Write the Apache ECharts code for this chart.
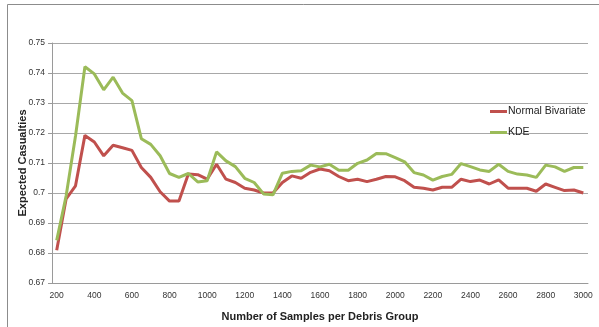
<!DOCTYPE html>
<html><head><meta charset="utf-8">
<script src="https://cdn.jsdelivr.net/npm/echarts@6/dist/echarts.min.js"></script>
<style>html,body{margin:0;padding:0;background:#fff}#c{width:599px;height:327px}</style>
</head><body><div id="c"></div>
<script>
const categories = [200,250,300,350,400,450,500,550,600,650,700,750,800,850,900,950,1000,1050,1100,1150,1200,1250,1300,1350,1400,1450,1500,1550,1600,1650,1700,1750,1800,1850,1900,1950,2000,2050,2100,2150,2200,2250,2300,2350,2400,2450,2500,2550,2600,2650,2700,2750,2800,2850,2900,2950,3000];
const normalBivariate = [0.6809,0.6980,0.7024,0.7192,0.7170,0.7124,0.7159,0.7151,0.7142,0.7085,0.7052,0.7004,0.6973,0.6973,0.7063,0.7061,0.7046,0.7096,0.7046,0.7035,0.7016,0.7010,0.7000,0.7000,0.7035,0.7057,0.7049,0.7069,0.7080,0.7074,0.7055,0.7041,0.7046,0.7038,0.7046,0.7055,0.7054,0.7041,0.7019,0.7016,0.7010,0.7019,0.7019,0.7046,0.7038,0.7043,0.7030,0.7044,0.7016,0.7016,0.7016,0.7006,0.7030,0.7019,0.7008,0.7010,0.7000];
const kde = [0.6842,0.6990,0.7190,0.7421,0.7397,0.7344,0.7386,0.7333,0.7308,0.7181,0.7162,0.7124,0.7065,0.7052,0.7065,0.7037,0.7041,0.7137,0.7107,0.7088,0.7049,0.7035,0.6997,0.6994,0.7066,0.7072,0.7074,0.7093,0.7087,0.7096,0.7076,0.7076,0.7099,0.7110,0.7132,0.7131,0.7118,0.7104,0.7068,0.7060,0.7043,0.7055,0.7062,0.7098,0.7088,0.7077,0.7072,0.7096,0.7072,0.7063,0.7060,0.7052,0.7093,0.7087,0.7072,0.7085,0.7085];
const yTicks = {min:0.67, max:0.75, step:0.01};

const chart = echarts.init(document.getElementById('c'), null, {renderer:'canvas'});
const font = 'Liberation Sans, Arial, sans-serif';
chart.setOption({
  animation:false,
  backgroundColor:'#fff',
  graphic:[{type:'rect', shape:{x:7.5,y:4.5,width:620,height:360}, style:{fill:'none',stroke:'#8c8c8c',lineWidth:1}, silent:true}],
  grid:{left:52,right:11,top:43,bottom:42,containLabel:false},
  legend:{
    orient:'vertical', left:485, top:101, itemGap:10,
    itemWidth:17, itemHeight:3, icon:'rect',
    textStyle:{fontFamily:font,fontSize:10.5,color:'#222',padding:[0,0,0,-4]},
    data:['Normal Bivariate','KDE']
  },
  xAxis:{
    type:'category', data:categories, boundaryGap:true,
    name:'Number of Samples per Debris Group', nameLocation:'middle', nameGap:28,
    nameTextStyle:{fontFamily:font,fontSize:11,fontWeight:'bold',color:'#222'},
    axisLine:{lineStyle:{color:'#9a9a9a',width:1}},
    axisTick:{show:false},
    axisLabel:{interval:3,fontFamily:font,fontSize:8.5,color:'#333',margin:8}
  },
  yAxis:{
    type:'value', min:yTicks.min, max:yTicks.max, interval:yTicks.step,
    name:'Expected Casualties', nameLocation:'middle', nameGap:24, nameRotate:90,
    nameMoveOverlap:false,
    nameTextStyle:{fontFamily:font,fontSize:11,fontWeight:'bold',color:'#222'},
    axisLine:{show:true,lineStyle:{color:'#9a9a9a',width:1}},
    axisTick:{show:true,length:4,lineStyle:{color:'#9a9a9a'}},
    splitLine:{lineStyle:{color:'#a8a8a8',width:1.2}},
    axisLabel:{fontFamily:font,fontSize:8.5,color:'#333',margin:7,formatter:v=>String(+v.toFixed(2))}
  },
  series:[
    {name:'Normal Bivariate',type:'line',data:normalBivariate,showSymbol:false,symbol:'none',
     lineStyle:{color:'#c0504d',width:3},itemStyle:{color:'#c0504d'}},
    {name:'KDE',type:'line',data:kde,showSymbol:false,symbol:'none',
     lineStyle:{color:'#9bbb59',width:3},itemStyle:{color:'#9bbb59'}}
  ]
});
</script></body></html>
